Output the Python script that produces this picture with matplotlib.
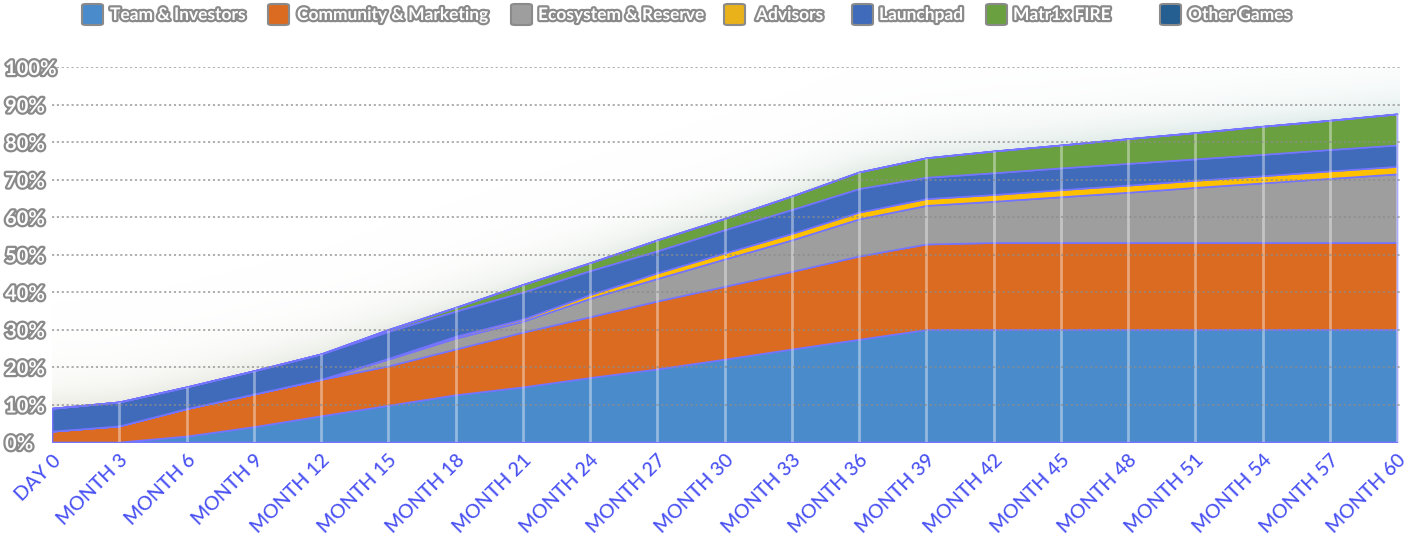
import numpy as np
import matplotlib
matplotlib.use("Agg")
import matplotlib.pyplot as plt
import matplotlib.patheffects as pe
from matplotlib.patches import FancyBboxPatch

# ---------------- data ----------------
months = [0, 3, 6, 9, 12, 15, 18, 21, 24, 27, 30, 33, 36, 39, 42, 45, 48, 51, 54, 57, 60]
tick_labels = ["DAY 0"] + [f"MONTH {m}" for m in months[1:]]
series_names = ["Team & Investors", "Community & Marketing", "Ecosystem & Reserve",
                "Advisors", "Launchpad", "Matr1x FIRE", "Other Games"]

team = [0, 0, 1.6, 4.1, 7.0, 9.8, 12.6, 14.7, 17.2, 19.5, 22.1, 24.8, 27.4, 30,
        30, 30, 30, 30, 30, 30, 30]
community = [2.9, 4.3, 7.3, 8.7, 9.7, 10.5, 12.2, 14.6, 16.2, 18.1, 19.4, 20.7, 22.2, 22.8,
             23.2, 23.2, 23.2, 23.2, 23.2, 23.2, 23.2]
ecosystem = [0, 0, 0, 0, 0, 1.8, 2.9, 2.9, 4.9, 6.0, 7.3, 8.4, 9.9, 10.3,
             11.0, 12.2, 13.4, 14.7, 15.9, 17.1, 18.3]
advisors = [0, 0, 0, 0, 0, 0.2, 0.5, 0.6, 1.0, 1.5, 1.6, 1.7, 1.8, 1.8,
            1.8, 1.9, 1.9, 1.9, 1.9, 2.0, 2.0]
launchpad = [6.1, 6.4, 5.8, 6.2, 6.8, 7.2, 6.7, 7.2, 6.4, 5.9, 6.2, 6.4, 6.3, 5.7,
             5.8, 5.8, 5.8, 5.7, 5.7, 5.7, 5.7]
fire = [0, 0, 0, 0, 0, 0.5, 1.0, 2.0, 2.1, 2.9, 3.0, 3.6, 4.4, 5.2,
        5.8, 6.1, 6.6, 7.0, 7.5, 7.8, 8.3]
other_games = [0] * 21

yticks = list(range(0, 101, 10))
ytick_labels = [f"{v}%" for v in yticks]

colors = ["#4A8BCB", "#DA6B21", "#9E9E9E", "#FFC000", "#3F6BBA", "#6AA040", "#255E91"]
legend_colors = ["#4A8BCB", "#DA6B21", "#9E9E9E", "#EAB21A", "#3F6BBA", "#6AA040", "#255E91"]

# ---------------- figure ----------------
W, H = 1412, 534
fig = plt.figure(figsize=(W / 100, H / 100), dpi=100)
x0, x1, y0, y1 = 52, 1400, 442, 67
ax = fig.add_axes([x0 / W, (H - y0) / H, (x1 - x0) / W, (y0 - y1) / H])
xmax = 60 * (x1 - x0) / (1397 - x0)
ax.set_xlim(0, xmax)
ax.set_ylim(0, 100)

data = np.array([team, community, ecosystem, advisors, launchpad, fire, other_games])
total = data.sum(axis=0)

# haze above the stack
gx = np.linspace(0, xmax, 600)
gy = np.linspace(0, 100, 400)
GX, GY = np.meshgrid(gx, gy)
tot_i = np.interp(GX, months, total)
d = GY - tot_i
alpha = np.where(d > 0, 0.42 * np.exp(-d / 6.0), 0)
t = (GX / xmax)[..., None]
c_left = np.array([0.83, 0.83, 0.75])
c_right = np.array([0.70, 0.83, 0.81])
rgb = c_left * (1 - t) + c_right * t
img = np.dstack([rgb, alpha[..., None]])
ax.imshow(img, extent=[0, xmax, 0, 100], origin="lower", aspect="auto", zorder=0,
          interpolation="bilinear")

polys = ax.stackplot(months, data, colors=colors, edgecolor="#7474FF",
                     linewidth=1.2, zorder=2)

# vertical light lines inside the areas
ax.vlines(months[1:], 0, total[1:], color="white", alpha=0.4, lw=2, zorder=3)

# dotted gridlines
for v in yticks[1:]:
    ax.axhline(v, color="#8C8C8C", lw=1.3, ls=(0, (1.2, 1.5)), alpha=0.75, zorder=4)

for s in ax.spines.values():
    s.set_visible(False)

ax.set_xticks(months)
ax.set_xticklabels(tick_labels, rotation=45, ha="right", va="top",
                   rotation_mode="anchor", color="#4850F2", fontsize=14,
                   fontweight="medium", family=["Lato", "DejaVu Sans"])
ax.tick_params(axis="x", length=0, pad=7)

stroke = [pe.withStroke(linewidth=3.2, foreground="#8A8A8A")]
ax.set_yticks(yticks)
ax.set_yticklabels(ytick_labels, fontsize=14.5, fontweight="bold", color="white",
                   family=["Lato", "DejaVu Sans"])
ax.tick_params(axis="y", length=0, pad=47 * 0.72)
for lab in ax.get_yticklabels():
    lab.set_ha("left")
    lab.set_path_effects(stroke)

# legend (manual)
marker_x = [82, 268, 511, 724, 852, 986, 1160]
text_x = [110, 297, 538, 756, 879, 1013, 1188]
for name, col, mx, tx in zip(series_names, legend_colors, marker_x, text_x):
    fig.patches.append(FancyBboxPatch((mx / W, (H - 25) / H), 21 / W, 21 / H,
                                      boxstyle="round,pad=0,rounding_size=0.003",
                                      transform=fig.transFigure, facecolor=col,
                                      edgecolor="#8A8A8A", linewidth=1.5))
    fig.text(tx / W, (H - 15) / H, name, ha="left", va="center", fontsize=12.5,
             fontweight="bold", color="white", family=["Lato", "DejaVu Sans"],
             path_effects=stroke)

fig.savefig("out.png", dpi=100, facecolor="white")
